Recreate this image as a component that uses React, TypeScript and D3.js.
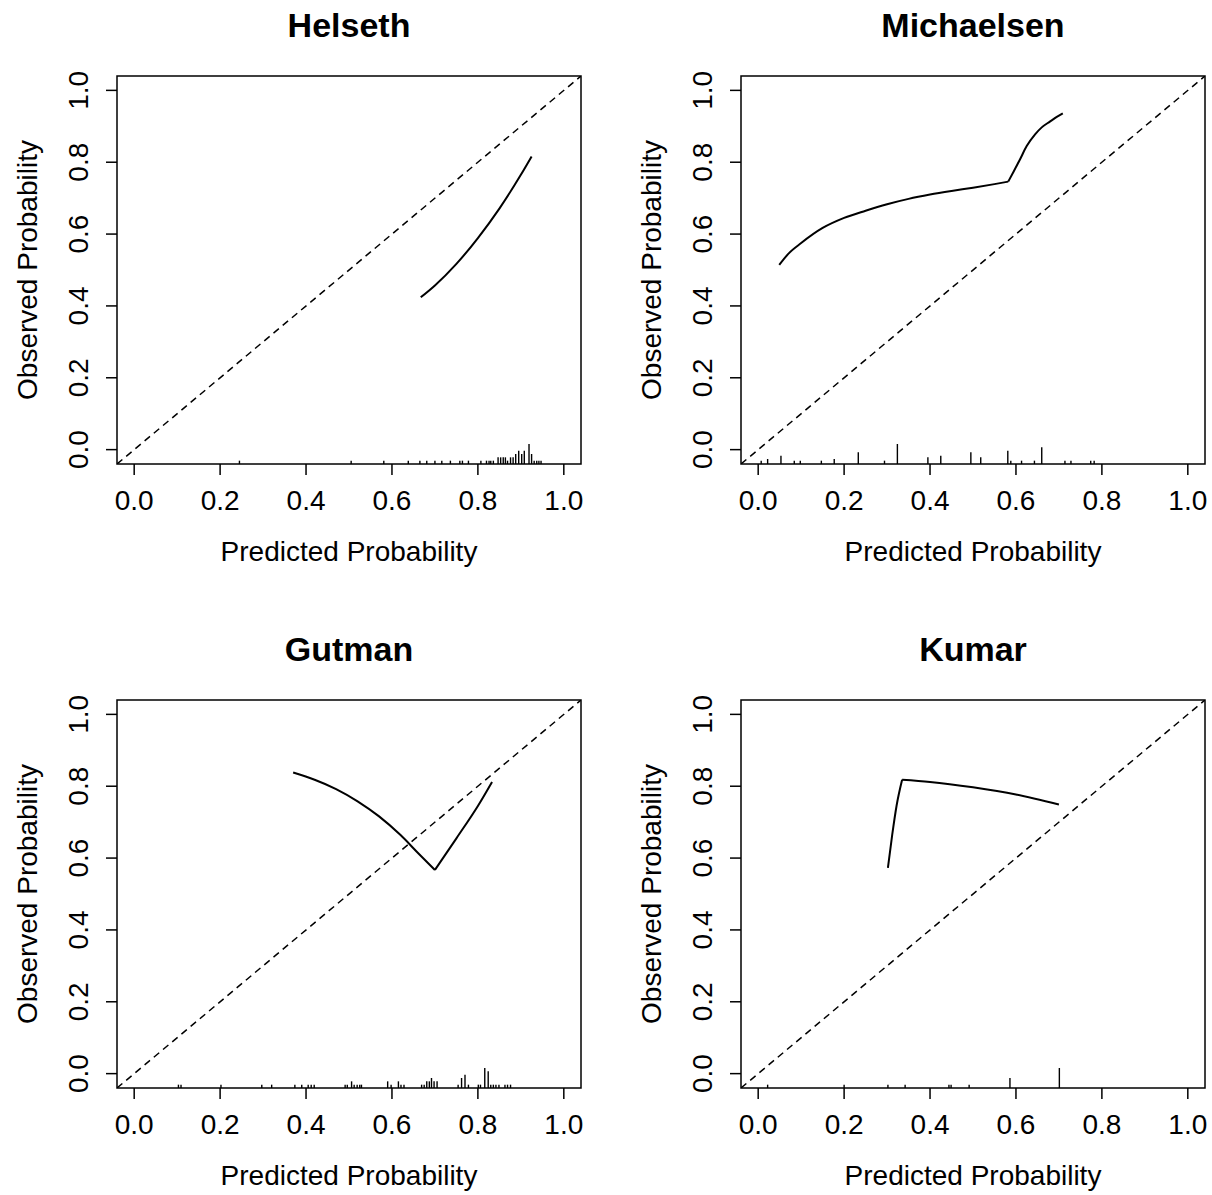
import React from 'react'
import * as d3 from 'd3'

// panel titles, in reading order
const titles = ['Helseth', 'Michaelsen', 'Gutman', 'Kumar']
const ticks = [0, 0.2, 0.4, 0.6, 0.8, 1.0]

// smoothed calibration curves (predicted -> observed)
const helsethPred = [0.667, 0.70, 0.75, 0.80, 0.85, 0.90, 0.925]
const helsethObs = [0.424, 0.457, 0.517, 0.589, 0.671, 0.765, 0.816]

const michaelsenPred = [0.049, 0.07, 0.10, 0.15, 0.20, 0.25, 0.30, 0.35, 0.40, 0.45, 0.50, 0.55, 0.582, 0.595, 0.609, 0.625, 0.644, 0.66, 0.679, 0.695, 0.709]
const michaelsenObs = [0.514, 0.545, 0.575, 0.617, 0.645, 0.665, 0.683, 0.698, 0.71, 0.72, 0.729, 0.739, 0.746, 0.775, 0.807, 0.845, 0.877, 0.897, 0.913, 0.926, 0.936]

const gutmanPred = [0.37, 0.42, 0.47, 0.52, 0.57, 0.62, 0.66, 0.70, 0.75, 0.80, 0.833]
const gutmanObs = [0.838, 0.818, 0.792, 0.758, 0.716, 0.664, 0.615, 0.567, 0.655, 0.745, 0.812]

const kumarPred = [0.302, 0.312, 0.322, 0.335, 0.40, 0.50, 0.60, 0.70]
const kumarObs = [0.573, 0.665, 0.745, 0.818, 0.812, 0.797, 0.777, 0.749]

// index of the sharp corner in each curve (-1 = none)
const kinks = [-1, 12, 7, 3]

// rug of predicted probabilities (bin position, count)
const helsethRugPred = [0.245, 0.505, 0.581, 0.638, 0.665, 0.681, 0.700, 0.716, 0.736, 0.758, 0.764, 0.778,
  0.807, 0.820, 0.826, 0.830, 0.836, 0.847, 0.853, 0.859, 0.864, 0.869, 0.876, 0.882, 0.888, 0.895, 0.902,
  0.908, 0.919, 0.925, 0.931, 0.937, 0.942, 0.947]
const helsethRugCount = [1, 1, 1, 1, 1, 1, 1, 1, 1, 1, 1, 1,
  1, 1, 1, 1, 1, 2, 2, 2, 2, 1, 2, 2, 3, 4, 3,
  4, 6, 3, 1, 1, 1, 1]

const michaelsenRugPred = [0.007, 0.022, 0.053, 0.084, 0.098, 0.147, 0.177, 0.233, 0.294, 0.324, 0.395, 0.425,
  0.495, 0.518, 0.581, 0.588, 0.613, 0.643, 0.660, 0.714, 0.728, 0.774, 0.782]
const michaelsenRugCount = [2, 3, 5, 2, 2, 2, 3, 7, 2, 12, 4, 5,
  7, 4, 8, 2, 2, 2, 10, 2, 2, 2, 2]

const gutmanRugPred = [0.103, 0.109, 0.202, 0.297, 0.320, 0.374, 0.390, 0.405, 0.412, 0.419,
  0.491, 0.496, 0.506, 0.512, 0.519, 0.525, 0.529, 0.590, 0.598, 0.615, 0.621, 0.628,
  0.669, 0.675, 0.681, 0.687, 0.692, 0.698, 0.705, 0.754, 0.762, 0.770, 0.778,
  0.801, 0.806, 0.816, 0.824, 0.830, 0.836, 0.842, 0.849, 0.863, 0.869, 0.876]
const gutmanRugCount = [1, 1, 1, 1, 1, 1, 1, 1, 1, 1,
  1, 1, 2, 1, 1, 1, 1, 2, 1, 2, 1, 1,
  1, 1, 2, 2, 3, 2, 2, 1, 3, 4, 1,
  1, 1, 6, 5, 1, 1, 1, 1, 1, 1, 1]

const kumarRugPred = [0.022, 0.200, 0.302, 0.342, 0.444, 0.449, 0.491, 0.586, 0.701]
const kumarRugCount = [1, 1, 1, 1, 1, 1, 1, 3, 6]

const curves = [
  [helsethPred, helsethObs],
  [michaelsenPred, michaelsenObs],
  [gutmanPred, gutmanObs],
  [kumarPred, kumarObs],
]
const rugs = [
  [helsethRugPred, helsethRugCount],
  [michaelsenRugPred, michaelsenRugCount],
  [gutmanRugPred, gutmanRugCount],
  [kumarRugPred, kumarRugCount],
]

const font = '"Liberation Sans", Arial, sans-serif'

function Panel({ idx }: { idx: number }) {
  const ox = (idx % 2) * 624
  const oy = Math.floor(idx / 2) * 624
  const x = d3.scaleLinear().domain([-0.04, 1.04]).range([117 + ox, 581 + ox])
  const y = d3.scaleLinear().domain([-0.04, 1.04]).range([464 + oy, 76 + oy])
  const [px, py] = curves[idx]
  const [rp, rc] = rugs[idx]
  const maxC = d3.max(rc) as number
  const line = d3.line<number>().x(d => x(px[d])).y(d => y(py[d])).curve(d3.curveMonotoneX)
  const k = kinks[idx]
  const segs = k < 0 ? [d3.range(px.length)] : [d3.range(0, k + 1), d3.range(k, px.length)]
  const cx = (x.range()[0] + x.range()[1]) / 2
  const cy = (y.range()[0] + y.range()[1]) / 2
  const bottom = y(-0.04)
  const left = x(-0.04)
  return (
    <g>
      <text x={cx} y={37 + oy} textAnchor="middle" fontFamily={font} fontWeight="bold" fontSize={34}>{titles[idx]}</text>
      <defs>
        <clipPath id={'clip' + idx}>
          <rect x={x(-0.04)} y={y(1.04)} width={x(1.04) - x(-0.04)} height={y(-0.04) - y(1.04)} />
        </clipPath>
      </defs>
      <line x1={x(-0.04)} y1={y(-0.04)} x2={x(1.04)} y2={y(1.04)} stroke="#000" strokeWidth={1.5}
        strokeDasharray="7,5" clipPath={`url(#clip${idx})`} />
      {segs.map((s, i) => (
        <path key={i} d={line(s) as string} fill="none" stroke="#000" strokeWidth={2} strokeLinejoin="miter" />
      ))}
      {rp.map((p, i) => (
        <line key={i} x1={x(p)} x2={x(p)} y1={bottom} y2={bottom - (rc[i] / maxC) * 20} stroke="#000" strokeWidth={1.4} />
      ))}
      <rect x={x(-0.04)} y={y(1.04)} width={x(1.04) - x(-0.04)} height={y(-0.04) - y(1.04)}
        fill="none" stroke="#000" strokeWidth={1.5} />
      {ticks.map(t => (
        <g key={'x' + t}>
          <line x1={x(t)} x2={x(t)} y1={bottom} y2={bottom + 11} stroke="#000" strokeWidth={1.5} />
          <text x={x(t)} y={510 + oy} textAnchor="middle" fontFamily={font} fontSize={28}>{t.toFixed(1)}</text>
        </g>
      ))}
      {ticks.map(t => (
        <g key={'y' + t}>
          <line x1={left} x2={left - 11} y1={y(t)} y2={y(t)} stroke="#000" strokeWidth={1.5} />
          <text transform={`translate(${88 + ox},${y(t)}) rotate(-90)`} textAnchor="middle" fontFamily={font} fontSize={28}>{t.toFixed(1)}</text>
        </g>
      ))}
      <text x={cx} y={561 + oy} textAnchor="middle" fontFamily={font} fontSize={28}>Predicted Probability</text>
      <text transform={`translate(${37 + ox},${cy}) rotate(-90)`} textAnchor="middle" fontFamily={font} fontSize={28}>Observed Probability</text>
    </g>
  )
}

export default function App() {
  return (
    <svg width={1212} height={1195} style={{ position: 'absolute', left: 0, top: 0, background: '#fff' }}>
      <rect width={1212} height={1195} fill="#fff" />
      {[0, 1, 2, 3].map(i => <Panel key={i} idx={i} />)}
    </svg>
  )
}
